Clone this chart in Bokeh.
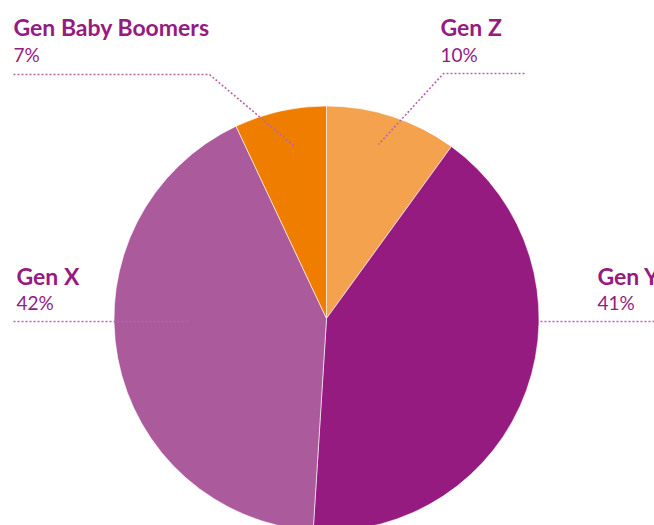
import numpy as np
from bokeh.plotting import figure
from bokeh.models import Range1d, ColumnDataSource
from bokeh.core.properties import value
from bokeh.embed import file_html
from bokeh.resources import INLINE

# Data
categories = ["Gen Z", "Gen Y", "Gen X", "Gen Baby Boomers"]
shares = [10, 41, 42, 7]
pct_labels = ["10%", "41%", "42%", "7%"]
colors = ["#F5A24F", "#951B81", "#AB5A9C", "#EF7D00"]

W, H = 654, 525
p = figure(width=W, height=H, output_backend="svg", toolbar_location=None,
           x_range=Range1d(0, W), y_range=Range1d(-H, 0),
           min_border=0)
p.axis.visible = False
p.grid.visible = False
p.outline_line_color = None
p.background_fill_color = "white"
p.border_fill_color = "white"

cx, cy, R = 326, -318, 212.5
vals = np.array(shares, dtype=float)
frac = vals / vals.sum()
cum = np.cumsum(frac)
prev = cum - frac
start = np.pi / 2 - 2 * np.pi * prev
end = np.pi / 2 - 2 * np.pi * cum

src = ColumnDataSource(dict(start=start, end=end, color=colors, cat=categories))
p.wedge(x=cx, y=cy, radius=R, start_angle="start", end_angle="end",
        direction="clock", fill_color="color", line_color="white",
        line_width=0.6, source=src)

title_col = "#951B81"
lead_col = "#B866AA"

# label layout: (text x, title centre y, pct centre y)
layout = {
    "Gen Z": (440, 26, 54),
    "Gen Y": (597, 275, 302),
    "Gen X": (16, 275, 302),
    "Gen Baby Boomers": (13, 26, 54),
}
# leader lines in screen px
leaders = {
    "Gen Z": ([524, 443, 378], [73, 73, 144]),
    "Gen Y": ([654, 540], [321, 321]),
    "Gen X": ([13, 188], [321, 321]),
    "Gen Baby Boomers": ([13, 209, 293], [74, 74, 145]),
}

tx, ty1, ty2, tl, tp = [], [], [], [], []
for c, pl in zip(categories, pct_labels):
    x, y1, y2 = layout[c]
    tx.append(x); ty1.append(-y1); ty2.append(-y2); tl.append(c); tp.append(pl)
    lx, ly = leaders[c]
    p.line(lx, [-v for v in ly], line_color=lead_col, line_width=1.6,
           line_dash="2 2")

p.text(x=tx, y=ty1, text=tl, text_font=value("Lato"), text_font_style="bold",
       text_font_size="23px", text_color=title_col, text_baseline="middle")
p.text(x=tx, y=ty2, text=tp, text_font=value("Lato"),
       text_font_size="19px", text_color=title_col, text_baseline="middle")

open("out.html", "w").write(file_html(p, INLINE))
